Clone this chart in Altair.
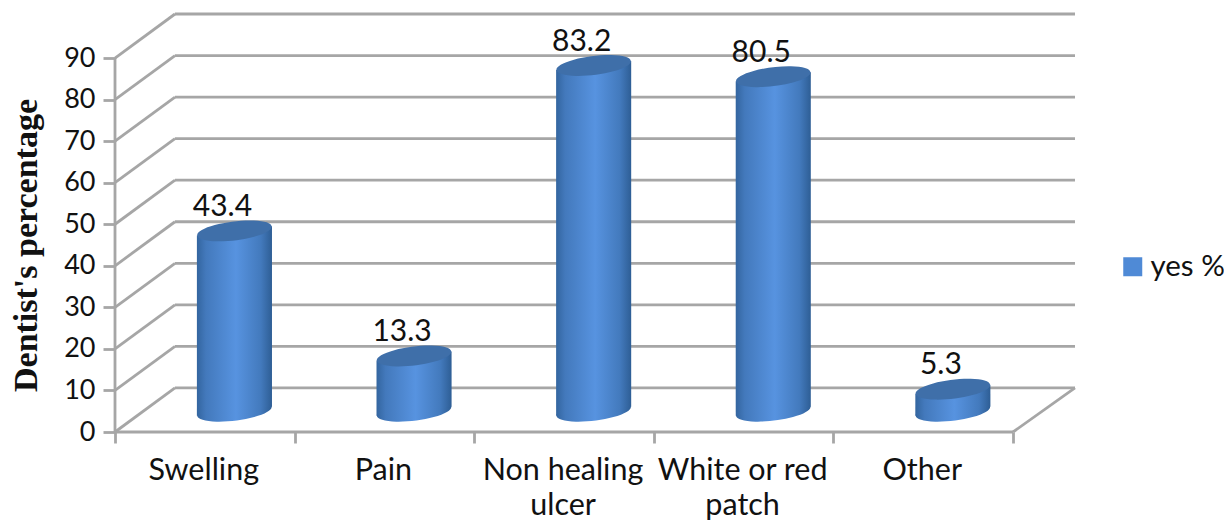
import altair as alt
import pandas as pd

categories = ["Swelling", "Pain", "Non healing\nulcer", "White or red\npatch", "Other"]
values = [43.4, 13.3, 83.2, 80.5, 5.3]
y_ticks = [0, 10, 20, 30, 40, 50, 60, 70, 80, 90]
x_ticks = [0, 1, 2, 3, 4, 5]
series_name = "yes %"

# pseudo-3D geometry in data units
DX, DY = 0.334, 10.6
XMAX, YMAX = 5.345, 100.6
DEPTH = 5.0
HALF = 0.209
TILT = 1.1
CENTER = 0.665

FONT = "Lato"
FS = 30
GRID = "#a6a6a6"
GW = 2.8
INK = "#111111"

xs = alt.Scale(domain=[0, XMAX], nice=False, zero=False)
ys = alt.Scale(domain=[0, YMAX], nice=False, zero=False)

x_axis = alt.Axis(values=x_ticks, labels=False, domain=False, grid=False, title=None,
                  tickSize=11, tickColor=GRID, tickWidth=GW)
y_axis = alt.Axis(values=y_ticks, domain=False, grid=False, tickSize=12, tickColor=GRID, tickWidth=GW,
                  labelFont=FONT, labelFontSize=27, labelColor=INK, labelPadding=8,
                  title="Dentist's percentage", titleFont="Liberation Serif", titleFontWeight="bold",
                  titleFontSize=34, titleColor=INK, titleX=-72, titleY=231)


def X(f="x"):
    return alt.X(f"{f}:Q", scale=xs, axis=x_axis)


def Y(f="y"):
    return alt.Y(f"{f}:Q", scale=ys, axis=y_axis, stack=None)


bars = pd.DataFrame({
    "cat": categories,
    "v": values,
    "cx": [i + CENTER for i in range(5)],
    "top": [v + DEPTH for v in values],
    "base": [DEPTH] * 5,
})
bars["lab_x"] = [i + 0.5 for i in range(5)]
bars["zero"] = 0

area_rows = []
for i, v in enumerate(values):
    c = i + CENTER
    area_rows.append({"cat": categories[i], "x": c - HALF, "y": v + DEPTH - TILT, "y2": DEPTH - TILT})
    area_rows.append({"cat": categories[i], "x": c + HALF, "y": v + DEPTH + TILT, "y2": DEPTH + TILT})
areas = pd.DataFrame(area_rows)

back = pd.DataFrame({"x": [DX] * len(y_ticks), "x2": [XMAX] * len(y_ticks),
                     "y": [t + DY for t in y_ticks]})
diag = pd.DataFrame({"x": [0] * len(y_ticks), "x2": [DX] * len(y_ticks),
                     "y": y_ticks, "y2": [t + DY for t in y_ticks]})
floor = pd.DataFrame({"x": [5], "x2": [XMAX], "y": [0], "y2": [DY]})
front = pd.DataFrame({"x": [0], "x2": [5], "y": [0]})
yaxis_line = pd.DataFrame({"x": [0], "y": [0], "y2": [90]})

grad = alt.Gradient(
    gradient="linear", x1=0, x2=1, y1=0, y2=0,
    stops=[
        alt.GradientStop(color="#33659f", offset=0),
        alt.GradientStop(color="#4379bc", offset=0.12),
        alt.GradientStop(color="#5793e0", offset=0.52),
        alt.GradientStop(color="#437abd", offset=0.85),
        alt.GradientStop(color="#2e5e95", offset=1),
    ],
)
ELLIPSE = "M-0.9925,0.122 A1,0.25 -7 1 1 0.9925,-0.122 A1,0.25 -7 1 1 -0.9925,0.122 Z"
ESIZE = 5625

back_l = alt.Chart(back).mark_rule(color=GRID, strokeWidth=GW).encode(x=X(), x2="x2:Q", y=Y())
diag_l = alt.Chart(diag).mark_rule(color=GRID, strokeWidth=GW).encode(x=X(), x2="x2:Q", y=Y(), y2="y2:Q")
floor_l = alt.Chart(floor).mark_rule(color=GRID, strokeWidth=GW).encode(x=X(), x2="x2:Q", y=Y(), y2="y2:Q")
front_l = alt.Chart(front).mark_rule(color=GRID, strokeWidth=GW).encode(x=X(), x2="x2:Q", y=Y())
yline_l = alt.Chart(yaxis_line).mark_rule(color=GRID, strokeWidth=GW).encode(x=X(), y=Y(), y2="y2:Q")

bottom_l = alt.Chart(bars).mark_point(
    shape=ELLIPSE, size=ESIZE, filled=True, fill=grad, opacity=1, strokeOpacity=0
).encode(x=X("cx"), y=Y("base"))

body_l = alt.Chart(areas).mark_area(fill=grad, opacity=1).encode(
    x=X(), y=Y(), y2="y2:Q", detail="cat:N"
)

top_l = alt.Chart(bars).mark_point(
    shape=ELLIPSE, size=ESIZE, filled=True, fill="#3f6fa9", opacity=1, strokeOpacity=0
).encode(x=X("cx"), y=Y("top"))

val_l = alt.Chart(bars).mark_text(
    font=FONT, fontSize=FS, color=INK, dx=-12, dy=-24
).encode(x=X("cx"), y=Y("top"), text=alt.Text("v:Q", format=".1f"))

cat_l = alt.Chart(bars).mark_text(
    font=FONT, fontSize=30.5, color=INK, baseline="top", dx=-1, dy=24, lineBreak="\n", lineHeight=35
).encode(x=X("lab_x"), y=Y("zero"), text="cat:N")

legend_l = alt.Chart(pd.DataFrame({"s": [series_name], "x": [0], "y": [0]})).mark_square(size=0, opacity=1).encode(
    x=X(), y=Y(),
    color=alt.Color("s:N", scale=alt.Scale(domain=[series_name], range=["#4f8ad6"]), legend=alt.Legend(
        title=None, orient="none", legendX=1003, legendY=238, symbolType="square", symbolSize=361,
        symbolStrokeWidth=0, labelFont=FONT, labelFontSize=29.5, labelColor=INK, labelOffset=3,
    )),
)

chart = alt.layer(
    back_l, diag_l, floor_l, front_l, yline_l, bottom_l, body_l, top_l, val_l, cat_l, legend_l
).properties(
    width=960, height=418,
    autosize=alt.AutoSizeParams(type="none"),
    padding={"left": 107, "top": 6, "right": 149, "bottom": 90},
    background="white",
).configure_view(stroke=None)

chart.save("out.html", embed_options={"renderer": "svg", "actions": False})
